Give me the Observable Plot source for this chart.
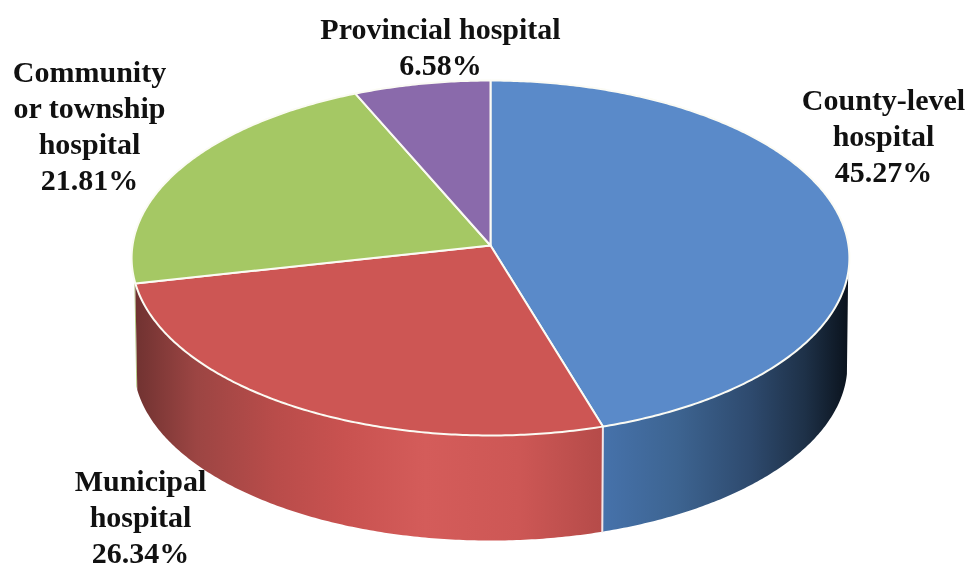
<!DOCTYPE html>
<html>
<head>
<meta charset="utf-8">
<script src="https://cdn.jsdelivr.net/npm/d3@7"></script>
<script src="https://cdn.jsdelivr.net/npm/@observablehq/plot@0.6"></script>
<style>html,body{margin:0;padding:0;background:#fff}svg{display:block;filter:blur(0.5px)}</style>
</head>
<body>
<div id="chart"></div>
<script>
const categories = ["County-level hospital", "Municipal hospital", "Community or township hospital", "Provincial hospital"];
const shares = [45.27, 26.34, 21.81, 6.58];
const topColors = ["#5a8ac9", "#cd5654", "#a5c864", "#8a6aab"];
const labelLines = ["County-level\nhospital", "Municipal\nhospital", "Community\nor township\nhospital", "Provincial hospital"];
const labelX = [883, 140, 89, 440];
const labelY = [134, 515, 124, 45];

const W = 969, H = 569;
// Tilted disc: perspective projection of a unit circle
const top_ = {cx: 490, cy: 245, a: 358, b: 176.6, k: 0.0704};
const bottom_ = {cx: 490, cy: 352, a: 356, b: 174.8, k: 0.0704};
const project = (e, t) => {
  const d = 1 + e.k * Math.cos(t);
  return {x: e.cx + e.a * Math.sin(t) / d, y: e.cy - e.b * Math.cos(t) / d};
};
const arcs = d3.pairs(d3.cumsum([0, ...shares]).map(c => c / 100 * 2 * Math.PI));
const sample = (t0, t1) => {
  const n = Math.max(2, Math.ceil((t1 - t0) / 0.01));
  return d3.range(n + 1).map(i => t0 + (t1 - t0) * i / n);
};
const slicePts = categories.flatMap((c, i) => {
  const [t0, t1] = arcs[i];
  const centre = {x: top_.cx, y: top_.cy, c};
  return [centre, ...sample(t0, t1).map(t => ({...project(top_, t), c})), centre];
});
const wall = (t0, t1, b0 = t0, b1 = t1) => {
  const pts = [...sample(t0, t1).map(t => project(top_, t)), ...sample(b0, b1).reverse().map(t => project(bottom_, t))];
  return [...pts, pts[0]];
};
const d2r = Math.PI / 180;
const blueWall = wall(90 * d2r, arcs[0][1], 97 * d2r, arcs[0][1]);
const redWall = wall(arcs[1][0], arcs[1][1]);
const greenWall = wall(arcs[2][0], 272 * d2r, arcs[2][0], 259 * d2r);
const divider = [project(top_, arcs[0][1]), project(bottom_, arcs[0][1])];

const grad = (id, stops) => {
  const g = d3.create("svg:linearGradient").attr("id", id).attr("x1", 0).attr("x2", 1).attr("y1", 0).attr("y2", 0);
  stops.forEach(([o, c]) => g.append("stop").attr("offset", o).attr("stop-color", c));
  return g.node();
};
const defs = () => {
  const d = d3.create("svg:defs");
  d.append(() => grad("blueGrad", [[0, "#4672ab"], [0.3, "#3d6491"], [0.6, "#2e4a6e"], [0.82, "#1e3148"], [1, "#0a121c"]]));
  d.append(() => grad("redGrad", [[0, "#703231"], [0.13, "#9c4543"], [0.3, "#b94c4a"], [0.45, "#c95250"], [0.62, "#d45c5a"], [0.82, "#cd5755"], [1, "#b54b49"]]));
  d.append(() => grad("greenGrad", [[0, "#8fa95a"], [1, "#bcd08a"]]));
  return d.node();
};

const labels = categories.map((c, i) => ({text: labelLines[i] + "\n" + shares[i].toFixed(2) + "%", x: labelX[i], y: labelY[i]}));

const chart = Plot.plot({
  width: W, height: H,
  marginTop: 0, marginRight: 0, marginBottom: 0, marginLeft: 0,
  x: {domain: [0, W], range: [0, W], axis: null},
  y: {domain: [0, H], range: [0, H], axis: null},
  color: {domain: categories, range: topColors},
  marks: [
    defs,
    Plot.line(greenWall, {x: "x", y: "y", fill: "url(#greenGrad)", curve: "linear"}),
    Plot.line(redWall, {x: "x", y: "y", fill: "url(#redGrad)", curve: "linear"}),
    Plot.line(blueWall, {x: "x", y: "y", fill: "url(#blueGrad)", curve: "linear"}),
    Plot.line(divider, {x: "x", y: "y", stroke: "#f3e6e8", strokeWidth: 2}),
    Plot.line(slicePts, {x: "x", y: "y", z: "c", fill: "c", stroke: "#fbfbf4", strokeWidth: 2, strokeLinejoin: "round", curve: "linear"}),
    Plot.text(labels, {x: "x", y: "y", text: "text", fontFamily: "Liberation Serif", fontWeight: "bold", fontSize: 30, lineHeight: 1.2, fill: "#111", textAnchor: "middle"})
  ]
});
document.getElementById("chart").append(chart);
</script>
</body>
</html>
